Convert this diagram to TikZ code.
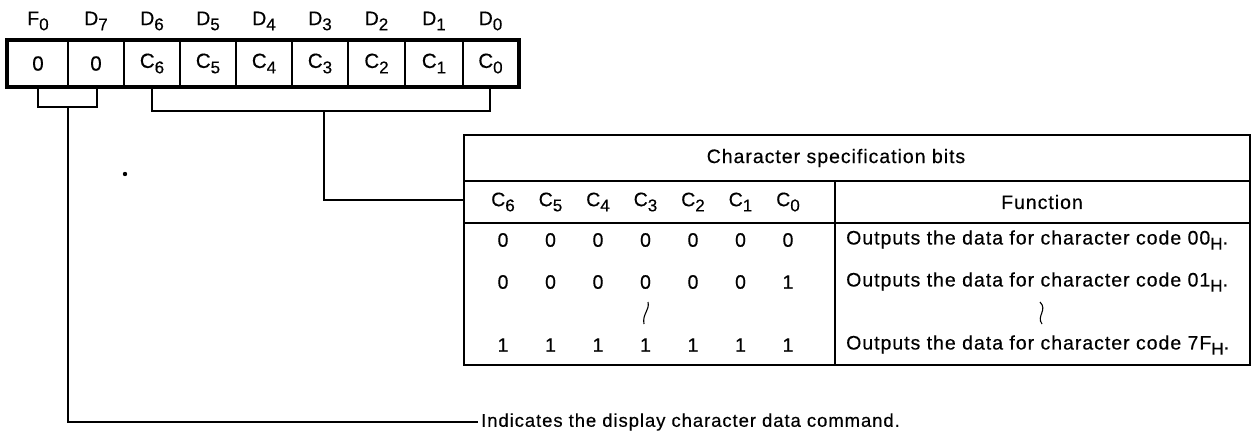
\documentclass[tikz,border=0pt]{standalone}
\usepackage{fontspec}
\setmainfont{Liberation Sans}[LetterSpace=5,FakeBold=0.4]
\newcommand\sbs[1]{\raisebox{-0.5ex}{\fontsize{17}{17}\selectfont #1}}
\begin{document}
\begin{tikzpicture}[x=1pt,y=-1pt,
  txt/.style={font=\fontsize{19.5}{21}\selectfont, inner sep=0pt},
  regcell/.style={draw, line width=2pt, minimum height=45pt, inner sep=0pt, font=\fontsize{20.5}{22}\selectfont},
  conn/.style={line width=2pt},
  frame/.style={line width=2.6pt},
  rule/.style={line width=1.6pt}]
\useasboundingbox (0,0) rectangle (1253,432);
% register
\foreach \a/\b/\t/\n/\l in {8/68/0/r8/{F\sbs{0}}, 68/124/0/r7/{D\sbs{7}}, 124/180/{C\sbs{6}}/r6/{D\sbs{6}}, 180/236/{C\sbs{5}}/r5/{D\sbs{5}}, 236/292/{C\sbs{4}}/r4/{D\sbs{4}}, 292/348/{C\sbs{3}}/r3/{D\sbs{3}}, 348/405/{C\sbs{2}}/r2/{D\sbs{2}}, 405/463/{C\sbs{1}}/r1/{D\sbs{1}}, 463/518/{C\sbs{0}}/r0/{D\sbs{0}}}{
  \node[regcell, minimum width={(\b-\a)*1pt}] (\n) at ({(\a+\b)/2},63.5) {\t};
  \node[txt] (l\n) at ({(\a+\b)/2},21) {\l};
}
\draw[line width=3.4pt] (r8.north west) rectangle (r0.south east);
% brackets
\coordinate (b8) at (38,107); \coordinate (b7) at (97,107);
\coordinate (b6) at (152,111); \coordinate (b0) at (490,111);
\coordinate (s1) at (68,107); \coordinate (s2) at (324,111);
\draw[conn] (b8 |- r8.south) -- (b8) -- (b7) -- (b7 |- r7.south);
\draw[conn] (b6 |- r6.south) -- (b6) -- (b0) -- (b0 |- r0.south);
% table
\coordinate (tnw) at (464,135); \coordinate (tse) at (1250,365);
\coordinate (h1w) at (464,181); \coordinate (h1e) at (1250,181);
\coordinate (h2w) at (464,223); \coordinate (h2e) at (1250,223);
\coordinate (dv1) at (835,181); \coordinate (dv2) at (835,365);
\draw[rule] (h1w) -- (h1e);
\draw[rule] (h2w) -- (h2e);
\draw[rule] (dv1) -- (dv2);
\draw[frame] (tnw) rectangle (tse);
\node[txt] (title) at (836,158) {Character specification bits};
\foreach \i/\d in {0/6,1/5,2/4,3/3,4/2,5/1,6/0}{
  \node[txt] (ch\d) at ({503+47.5*\i},202) {C\sbs{\d}};
}
\node[txt] (fn) at (1042,202) {Function};
\foreach \i in {0,...,6}{
  \node[txt] (ra\i) at ({503+47.5*\i},240) {0};
  \node[txt] (rc\i) at ({503+47.5*\i},345) {1};
}
\foreach \i/\v in {0/0,1/0,2/0,3/0,4/0,5/0,6/1}{
  \node[txt] (rb\i) at ({503+47.5*\i},282) {\v};
}
\node[txt, anchor=west] (fa) at (846,240) {Outputs the data for character code 00\sbs{H}.};
\node[txt, anchor=west] (fb) at (846,282) {Outputs the data for character code 01\sbs{H}.};
\node[txt, anchor=west] (fc) at (846,345) {Outputs the data for character code 7F\sbs{H}.};
% squiggles
\draw[line width=1.1pt] (648,302) .. controls (650,310) and (642,314) .. (644,324);
\draw[line width=1.1pt] (1040,302) .. controls (1048,310) and (1036,316) .. (1042,324);
% connectors
\coordinate (t1) at (464,200);
\draw[conn] (s2) -- (s2 |- t1) -- (t1);
\node[txt, anchor=west, font=\fontsize{18.5}{20}\selectfont] (ind) at (481,422) {Indicates the display character data command.};
\draw[conn] (s1) -- (s1 |- ind) -- ([xshift=-3pt]ind.west);
\fill (125,174) circle (2.2pt);
\end{tikzpicture}
\end{document}
